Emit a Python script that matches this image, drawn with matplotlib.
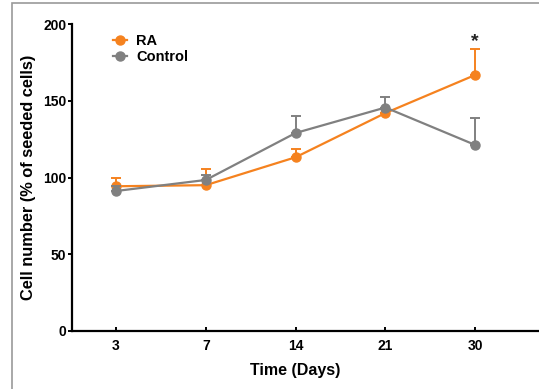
import matplotlib
matplotlib.use('Agg')
import matplotlib.pyplot as plt
from matplotlib.patches import Rectangle
from matplotlib.lines import Line2D
import numpy as np

plt.rcParams['font.family'] = ['Liberation Sans', 'DejaVu Sans']
plt.rcParams['font.weight'] = 'bold'

# data
days = ['3', '7', '14', '21', '30']
ra_mean = [94.3, 95.0, 113.2, 142.0, 166.8]
ra_err = [5.7, 10.5, 5.6, 3.0, 16.7]
ctrl_mean = [91.2, 98.4, 129.0, 145.6, 121.2]
ctrl_err = [3.5, 3.0, 11.3, 6.6, 17.4]
star_label = '*'
star_y = 188.5

orange = '#F5821F'
grey = '#808080'

fig = plt.figure(figsize=(5.39, 3.89), dpi=100)
ax = fig.add_axes([72 / 539, 58 / 389, 1 - 72 / 539, (331 - 24) / 389])

x = np.arange(len(days))

# grey frame round the figure
fig.patches.append(Rectangle((12 / 539, -0.1), 1.2, (389 - 3) / 389 + 0.1,
                             transform=fig.transFigure, fill=False,
                             edgecolor='#9a9a9a', linewidth=1.2))

ax.errorbar(x, ctrl_mean, yerr=[np.zeros(len(x)), ctrl_err], color=grey,
            marker='o', markersize=6.5, linewidth=1.6, capsize=3.5,
            elinewidth=1.4, capthick=1.4, zorder=3)
ax.errorbar(x, ra_mean, yerr=[np.zeros(len(x)), ra_err], color=orange,
            marker='o', markersize=6.5, linewidth=1.6, capsize=3.5,
            elinewidth=1.4, capthick=1.4, zorder=2)

ax.text(x[-1], star_y, star_label, ha='center', va='center',
        fontsize=14, color='#222222')

ax.set_xlim(-0.49, 4.71)
ax.set_ylim(0, 200)
ax.set_xticks(x)
ax.set_xticklabels(days)
ax.set_yticks([0, 50, 100, 150, 200])

ax.spines['top'].set_visible(False)
ax.spines['right'].set_visible(False)
ax.spines['left'].set_linewidth(1.6)
ax.spines['bottom'].set_linewidth(1.6)
ax.tick_params(axis='y', direction='out', length=3, width=1.4,
               labelsize=10, pad=1)
ax.tick_params(axis='x', direction='in', length=3, width=1.4,
               labelsize=10, pad=6)

ax.set_xlabel('Time (Days)', fontsize=11.5, fontweight='bold', labelpad=7)
ax.xaxis.label.set_x((2 + 0.49) / 5.2)
ax.set_ylabel('Cell number (% of seeded cells)', fontsize=11.8,
              fontweight='bold', labelpad=5)

handles = [Line2D([], [], color=orange, marker='o', markersize=6.5, lw=1.6),
           Line2D([], [], color=grey, marker='o', markersize=6.5, lw=1.6)]
ax.legend(handles, ['RA', 'Control'], loc='upper left',
          bbox_to_anchor=(0.075, 0.985), frameon=False, fontsize=10.5,
          handlelength=1.0, handletextpad=0.6, labelspacing=0.1,
          borderaxespad=0)

fig.savefig('out.png', dpi=100)
